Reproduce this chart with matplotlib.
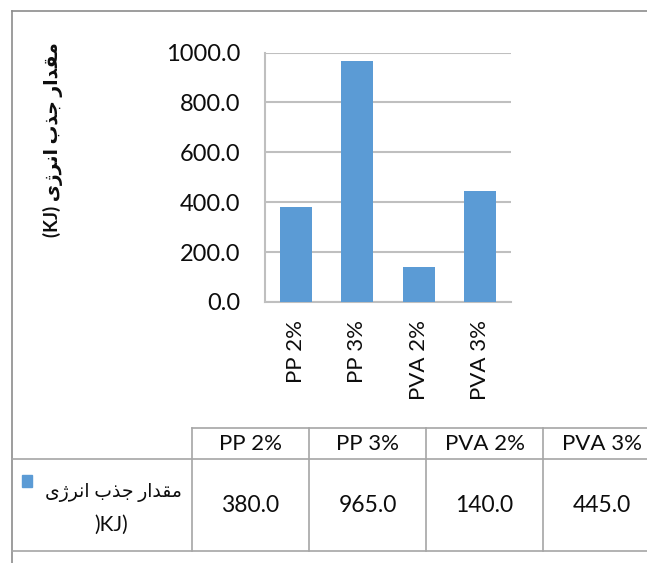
import matplotlib
matplotlib.use('Agg')
import matplotlib.pyplot as plt
from matplotlib.lines import Line2D

# 数据
categories = ['PP 2%', 'PP 3%', 'PVA 2%', 'PVA 3%']
energy_kj = [380.0, 965.0, 140.0, 445.0]
y_ticks = [0, 200, 400, 600, 800, 1000]
series_name = 'مقدار جذب انرژی'
unit = '(KJ)'

BAR_COLOR = '#5B9BD5'
GRID_COLOR = '#BFBFBF'
TABLE_COLOR = '#A6A6A6'
TEXT_COLOR = '#0D0D0D'
FONT = ['Lato', 'DejaVu Sans']

# 简单的阿拉伯/波斯字形连接（matplotlib 不做 shaping）
FORMS = {
    'ا': (None, '\uFE8E', None, None),
    'ب': (None, '\uFE90', '\uFE91', '\uFE92'),
    'ج': (None, '\uFE9E', '\uFE9F', '\uFEA0'),
    'د': (None, '\uFEAA', None, None),
    'ذ': (None, '\uFEAC', None, None),
    'ر': (None, '\uFEAE', None, None),
    'ژ': (None, '\uFB8B', None, None),
    'ق': (None, '\uFED6', '\uFED7', '\uFED8'),
    'م': (None, '\uFEE2', '\uFEE3', '\uFEE4'),
    'ن': (None, '\uFEE6', '\uFEE7', '\uFEE8'),
    'ی': (None, '\uFBFD', '\uFBFE', '\uFBFF'),
}


def joins_forward(ch):
    return ch in FORMS and FORMS[ch][2] is not None


def shape_word(word):
    out = []
    for i, ch in enumerate(word):
        if ch not in FORMS:
            out.append(ch)
            continue
        prev_join = i > 0 and joins_forward(word[i - 1])
        next_join = i < len(word) - 1 and word[i + 1] in FORMS and joins_forward(ch)
        iso, fin, ini, med = FORMS[ch]
        if prev_join and next_join:
            g = med
        elif prev_join:
            g = fin
        elif next_join:
            g = ini
        else:
            g = None
        out.append(g or ch)
    return ''.join(reversed(out))


def rtl(text):
    return ' '.join(shape_word(w) for w in reversed(text.split(' ')))


W, H = 647, 563


def fx(x):
    return x / W


def fy(y):
    return 1 - y / H


fig = plt.figure(figsize=(W / 100, H / 100), dpi=100)

# 外框
fig.add_artist(Line2D([fx(12), fx(W)], [fy(10.5), fy(10.5)], color='#8C8C8C', lw=1.2))
fig.add_artist(Line2D([fx(12), fx(12)], [fy(10.5), fy(H)], color='#8C8C8C', lw=1.2))

ax = fig.add_axes([fx(265), fy(302), (511 - 265) / W, (302 - 52.5) / H])
x = range(len(categories))
ax.bar(x, energy_kj, width=0.52, color=BAR_COLOR, zorder=3)
ax.set_xlim(-0.5, len(categories) - 0.5)
ax.set_ylim(0, 1000)
ax.set_yticks(y_ticks)
ax.set_yticklabels([f'{v:.1f}' for v in y_ticks], family=FONT, fontsize=17, color=TEXT_COLOR)
ax.set_xticks(list(x))
ax.set_xticklabels(categories, rotation=90, family=FONT, fontsize=16, color=TEXT_COLOR, va='top')
ax.tick_params(axis='y', length=0, pad=18)
ax.tick_params(axis='x', length=0, pad=13)
ax.grid(axis='y', color=GRID_COLOR, lw=1.5, zorder=0)
for side in ['top', 'right']:
    ax.spines[side].set_visible(False)
for side in ['left', 'bottom']:
    ax.spines[side].set_color(GRID_COLOR)
    ax.spines[side].set_linewidth(1.5)

fig.text(fx(53), fy(140), unit + ' ' + rtl(series_name), rotation=90, ha='center', va='center',
         family=FONT, fontsize=13.5, fontweight='bold', color=TEXT_COLOR)

# 数据表
col0, col_w = 192, 117
top, mid, bot = 428, 459, 551
fig.add_artist(Line2D([fx(col0), fx(W)], [fy(top), fy(top)], color=TABLE_COLOR, lw=1.2))
for yy in (mid, bot):
    fig.add_artist(Line2D([fx(12), fx(W)], [fy(yy), fy(yy)], color=TABLE_COLOR, lw=1.2))
for i in range(len(categories)):
    xx = col0 + i * col_w
    fig.add_artist(Line2D([fx(xx), fx(xx)], [fy(top), fy(bot)], color=TABLE_COLOR, lw=1.2))
    cx = xx + col_w / 2
    fig.text(fx(cx), fy(444), categories[i], ha='center', va='center',
             family=FONT, fontsize=16, color=TEXT_COLOR)
    fig.text(fx(cx), fy(506), f'{energy_kj[i]:.1f}', ha='center', va='center',
             family=FONT, fontsize=16.5, color=TEXT_COLOR)

# 图例单元格
fig.add_artist(plt.Rectangle((fx(22), fy(487)), 10 / W, 12 / H, color=BAR_COLOR))
fig.text(fx(182), fy(492), rtl(series_name), ha='right', va='center',
         family=FONT, fontsize=13.5, color=TEXT_COLOR)
fig.text(fx(111), fy(525), ')KJ)', ha='center', va='center',
         family=FONT, fontsize=15, color=TEXT_COLOR)

fig.savefig('out.png', dpi=100)
